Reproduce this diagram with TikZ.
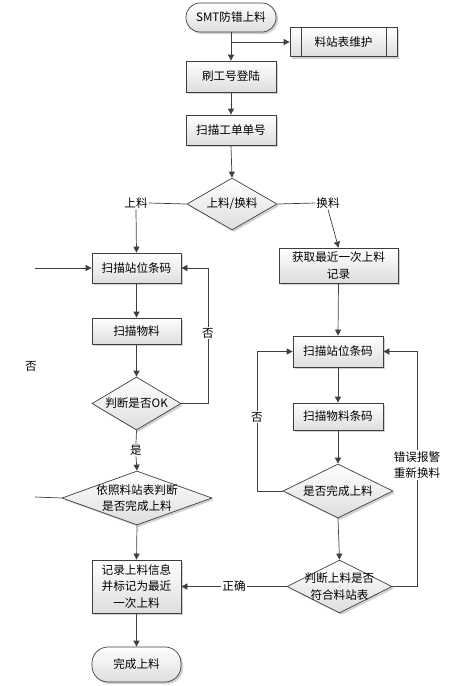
\documentclass[tikz,border=0pt]{standalone}
\usepackage{fontspec}
\setmainfont{Noto Sans CJK SC}
\usetikzlibrary{shapes.geometric,shadows,arrows.meta}
\definecolor{edge}{HTML}{3F3F3F}
\tikzset{
  base/.style={draw=edge,line width=0.7pt,top color=white,bottom color=black!13,
    drop shadow={shadow xshift=2pt,shadow yshift=-2pt,fill=black!30,opacity=0.6},
    inner sep=0pt,align=center,font=\fontsize{11.6}{16.5}\selectfont},
  procbox/.style={base,rectangle,minimum width=89pt,minimum height=30pt},
  termbox/.style={base,rectangle,rounded corners=14pt,minimum width=90pt,minimum height=29pt},
  decide/.style={base,diamond,aspect=2},
  lbl/.style={fill=white,inner sep=1pt,align=center,font=\fontsize{11.6}{16.5}\selectfont},
  arr/.style={draw=edge,line width=0.7pt,-{Triangle[width=6pt,length=6pt]}},
  ln/.style={draw=edge,line width=0.7pt},
}
\begin{document}
\begin{tikzpicture}[x=1pt,y=-1pt]
\useasboundingbox (0,0) rectangle (450,686);
% top column
\node[termbox] (start) at (231,17.5) {SMT防错上料};
\node[procbox,minimum width=107pt,minimum height=29pt] (maint) at (343.5,42) {料站表维护};
\draw[ln] ([xshift=12pt]maint.north west) -- ([xshift=12pt]maint.south west);
\draw[ln] ([xshift=-11pt]maint.north east) -- ([xshift=-11pt]maint.south east);
\node[procbox,minimum width=90pt,minimum height=31pt] (login) at (231,76.5) {刷工号登陆};
\node[procbox,minimum width=90pt,minimum height=30pt] (order) at (231,130) {扫描工单单号};
\node[decide,minimum width=90pt,minimum height=52pt] (choice) at (232,204) {上料/换料};
\node[lbl] (lblL) at (136,203) {上料};
\node[lbl] (lblR) at (328,203) {换料};
% left column
\node[procbox,minimum height=30pt] (scanL) at (136.5,268) {扫描站位条码};
\node[procbox,minimum height=26pt] (matL) at (136.5,331) {扫描物料};
\node[decide,aspect=1.7,inner sep=-1pt,minimum width=89pt,minimum height=53pt] (okL) at (136.5,403.5) {判断是否OK};
\node[lbl] (yesL) at (136,450) {是};
\node[decide,aspect=2.8,inner sep=-3pt,minimum width=150pt,minimum height=54pt] (judgeL) at (137,498) {依照料站表判断\\是否完成上料};
\node[procbox,minimum height=53pt] (rec) at (136.5,586.5) {记录上料信息\\并标记为最近\\一次上料};
\node[termbox,minimum width=89pt,minimum height=35pt,rounded corners=16pt] (done) at (136.5,664.5) {完成上料};
\node[lbl] (noOut) at (31,366) {否};
\coordinate (extA) at (35,268);
\coordinate (extB) at (35,497);
% right column
\node[procbox,minimum width=119pt,minimum height=35pt] (getrec) at (338.5,265.5) {获取最近一次上料\\记录};
\node[procbox,minimum width=90pt,minimum height=31pt] (scanR) at (338,351.5) {扫描站位条码};
\node[procbox,minimum width=90pt,minimum height=27pt] (matR) at (338,416.5) {扫描物料条码};
\node[decide,minimum width=110pt,minimum height=54pt] (doneQ) at (338,491) {是否完成上料};
\node[decide,inner sep=-5pt,minimum width=105pt,minimum height=53pt] (fitQ) at (339.5,586.5) {判断上料是否\\符合料站表};
\coordinate (loopA) at (208,403.5);
\coordinate (loopB) at (257,491);
\coordinate (loopC) at (417,586.5);
% connectors
\draw[arr] (start.south) -- (login.north);
\draw[arr] (start.south |- maint.west) -- (maint.west);
\draw[arr] (login.south) -- (order.north);
\draw[arr] (order.south) -- (choice.north);
\draw[ln] (choice.west) -- (lblL.east);
\draw[ln] (choice.east) -- (lblR.west);
\draw[arr] (lblL.south) -- (scanL.north);
\draw[arr] (lblR.south) -- (getrec.north);
\draw[arr] (extA) -- (scanL.west);
\draw[arr] (scanL.south) -- (matL.north);
\draw[arr] (matL.south) -- (okL.north);
\draw[arr] (okL.east) -- (loopA) |- (scanL.east);
\node[lbl] (noA) at (208,333) {否};
\draw[ln] (okL.south) -- (yesL.north);
\draw[arr] (yesL.south) -- (judgeL.north);
\draw[ln] (judgeL.west) -- (extB);
\draw[arr] (judgeL.south) -- (rec.north);
\draw[arr] (rec.south) -- (done.north);
\draw[arr] (getrec.south) -- (scanR.north);
\draw[arr] (scanR.south) -- (matR.north);
\draw[arr] (matR.south) -- (doneQ.north);
\draw[arr] (doneQ.south) -- (fitQ.north);
\draw[arr] (doneQ.west) -- (loopB) |- (scanR.west);
\node[lbl] (noB) at (257,417) {否};
\draw[arr] (fitQ.east) -- (loopC) |- (scanR.east);
\node[lbl] (errL) at (417,465) {错误报警\\重新换料};
\draw[arr] (fitQ.west) -- (rec.east) node[lbl,midway] (okLbl) {正确};
\end{tikzpicture}
\end{document}
